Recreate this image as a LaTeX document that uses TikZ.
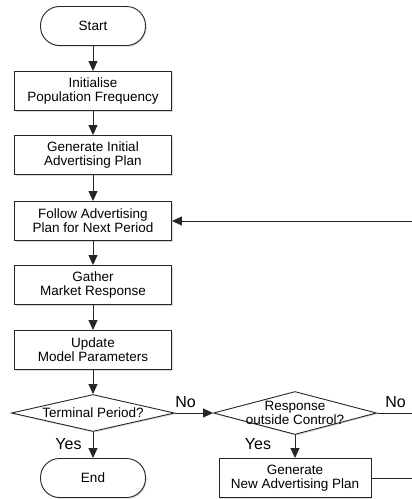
\documentclass[tikz,border=0pt]{standalone}
\usepackage{fontspec}
\setmainfont{Liberation Sans}
\usepackage{xcolor}
\usepackage{tikz}
\usetikzlibrary{shapes.geometric, arrows.meta, positioning, shadows}

\newcommand{\flowfont}{\fontsize{13.5}{14}\selectfont}

\tikzset{
  line/.style={draw=black!85, line width=0.9pt},
  flow/.style={line, -{Triangle[length=10pt,width=9pt]}},
  shade/.style={drop shadow={shadow xshift=1.2pt, shadow yshift=-1.2pt, opacity=0.3}},
  stepbox/.style={line, fill=white, shade, align=center, font=\flowfont,
    minimum width=157pt, minimum height=39pt, inner sep=0pt},
  terminal/.style={stepbox, rounded corners=19pt, minimum width=105pt},
  decision/.style={line, fill=white, shade, diamond, align=center, font=\flowfont,
    inner sep=-5pt, minimum width=163pt, minimum height=40pt},
  tag/.style={font=\fontsize{16}{18}\selectfont, inner sep=0pt, anchor=base}
}

\begin{document}
\begin{tikzpicture}[x=1pt, y=-1pt]
  \useasboundingbox (0,0) rectangle (412,499);

  % Main column
  \node[terminal] (start) at (93,26) {Start};
  \foreach \name/\y/\txt in {init/91/{Initialise\\Population Frequency},
      initplan/155/{Generate Initial\\Advertising Plan},
      follow/221/{Follow Advertising\\Plan for Next Period},
      gather/285/{Gather\\Market Response},
      update/350/{Update\\Model Parameters}}
    \node[stepbox] (\name) at (93,\y) {\txt};
  \node[decision, aspect=4.4, minimum height=37pt] (term) at (93,413) {Terminal Period?};
  \node[terminal] (end) at (93,478) {End};

  % Right branch
  \node[decision, aspect=3.8, minimum height=43pt] (resp) at (295,413) {Response\\outside Control?};
  \node[stepbox, minimum width=152pt] (newplan) at (295,478) {Generate\\New Advertising Plan};

  % Arrows down the column
  \foreach \a/\b in {start/init, init/initplan, initplan/follow, follow/gather,
      gather/update, update/term}
    \draw[flow] (\a) -- (\b);
  \draw[flow] (term.south) -- (end.north);
  \draw[flow] (term.east) -- (resp.west);
  \draw[flow] (resp.south) -- (newplan.north);

  % Loop back (runs off the right edge)
  \coordinate (loopin) at (412,221);
  \coordinate (noout) at (412,413);
  \coordinate (planout) at (412,478);
  \draw[flow] (loopin) -- (follow.east);
  \draw[line] (resp.east) -- (noout);
  \draw[line] (newplan.east) -- (planout);

  % Yes / No
  \node[tag] (noleft) at (185.5,407) {No};
  \node[tag] (noright) at (395.5,407) {No};
  \node[tag] (yesleft) at (68.5,449) {Yes};
  \node[tag] (yesright) at (258,449) {Yes};
\end{tikzpicture}
\end{document}
